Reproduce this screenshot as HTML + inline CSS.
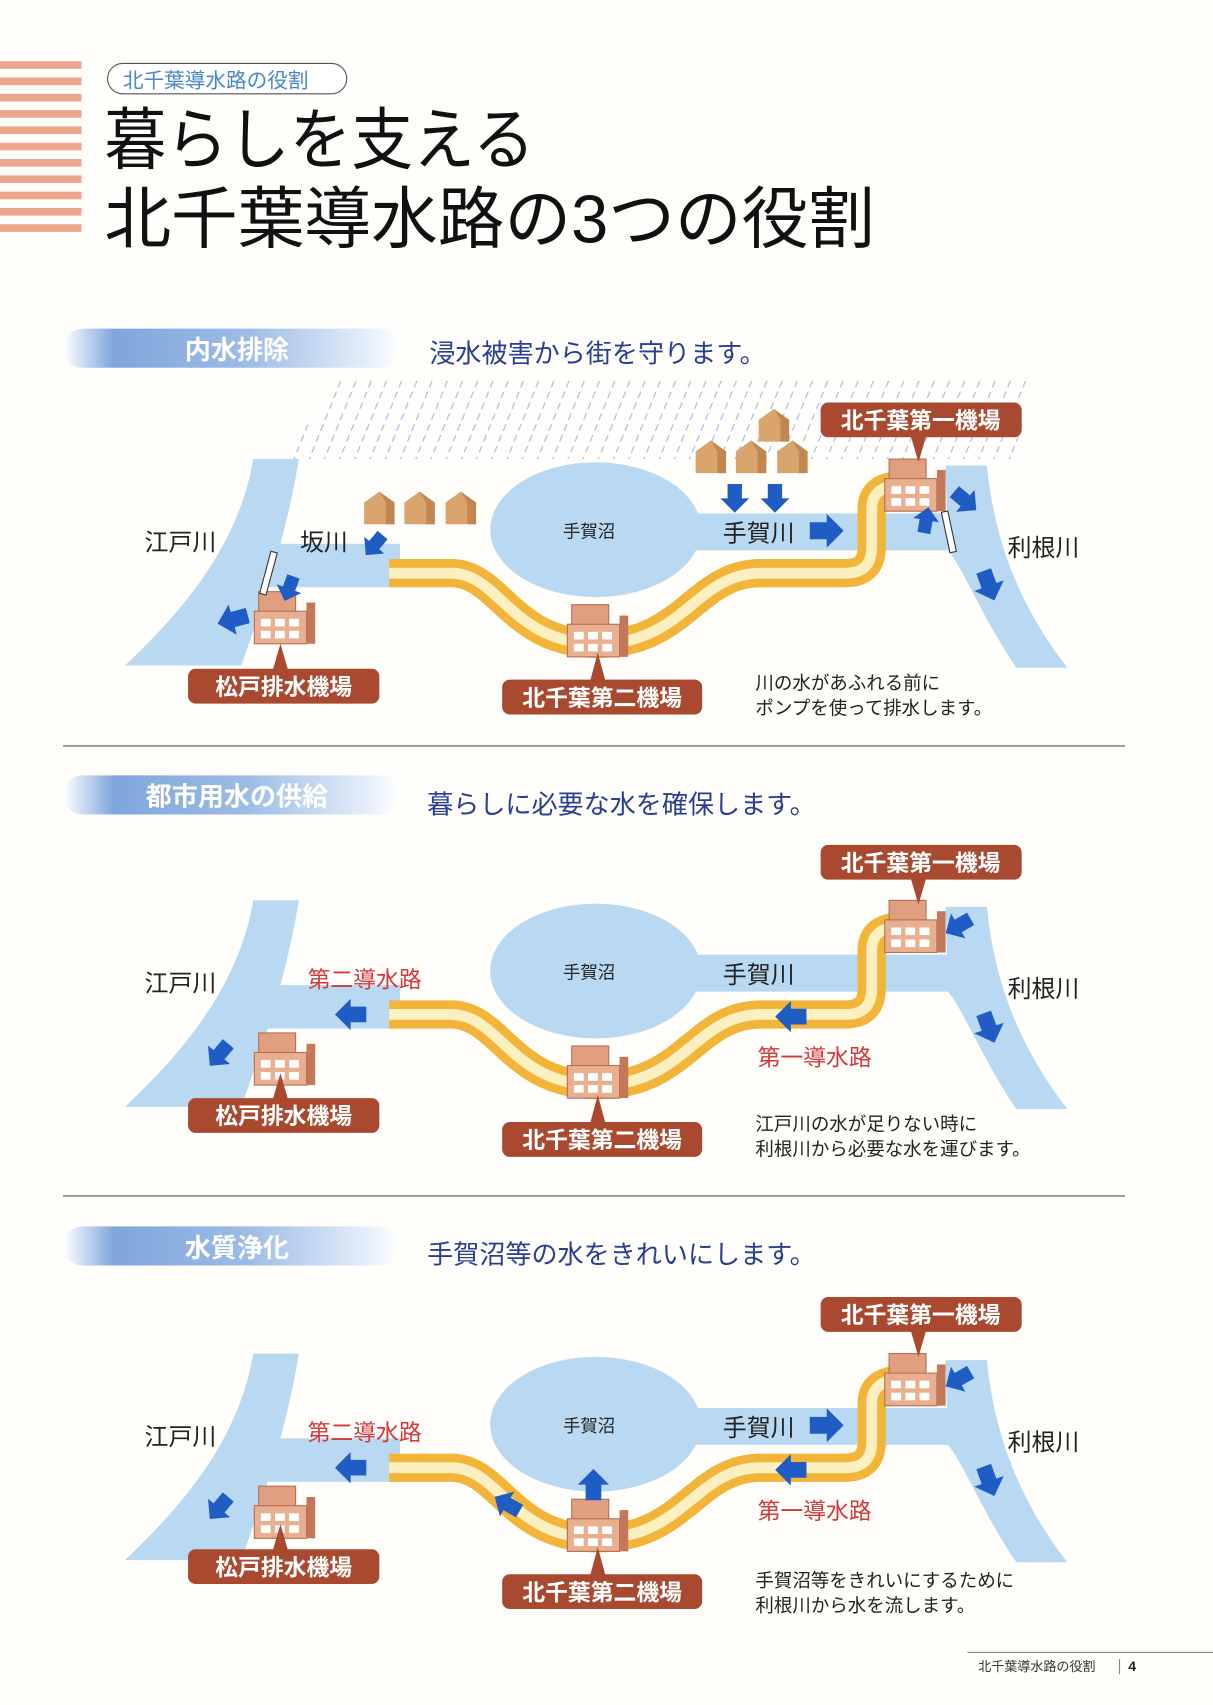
<!DOCTYPE html>
<html><head><meta charset="utf-8">
<style>
html,body{margin:0;padding:0;background:#fffefb;}
svg{display:block;}
text{font-family:"Liberation Sans","Noto Sans CJK JP",sans-serif;}
</style></head><body>
<svg width="1213" height="1705" viewBox="0 0 1116 1568" xmlns="http://www.w3.org/2000/svg">
<defs>
  <pattern id="rain" width="14" height="70" patternUnits="userSpaceOnUse" patternTransform="skewX(-22)">
    <line x1="7" y1="0" x2="7" y2="70" stroke="#8fb6e0" stroke-width="1" stroke-dasharray="6,4"/>
  </pattern>
  <linearGradient id="hdr" x1="0" x2="1">
    <stop offset="0" stop-color="#ffffff"/><stop offset="0.15" stop-color="#7fa6dc"/>
    <stop offset="0.55" stop-color="#9dbce6"/><stop offset="0.9" stop-color="#e4eefa"/><stop offset="1" stop-color="#ffffff"/>
  </linearGradient>
  <g id="arrowR"><polygon points="0,-6 12,-6 12,-12 24,0 12,12 12,6 0,6" fill="#1f5cc4"/></g>
  <g id="house"><polygon points="0,10 14,0 28,10 28,30 0,30" fill="#d9a46e"/><polygon points="14,0 28,10 28,30 20,30 20,10" fill="#c08850"/></g>
  <g id="station">
    <rect x="-24" y="-26" width="34" height="22" fill="#e0a080" stroke="#b86c50"/>
    <rect x="-28" y="-8" width="48" height="30" fill="#e8b090" stroke="#b86c50"/>
    <rect x="20" y="-16" width="8" height="38" fill="#c47858"/>
    <rect x="-22" y="-1" width="9" height="7" fill="#fff"/><rect x="-9" y="-1" width="9" height="7" fill="#fff"/><rect x="4" y="-1" width="9" height="7" fill="#fff"/>
    <rect x="-22" y="10" width="9" height="7" fill="#fff"/><rect x="-9" y="10" width="9" height="7" fill="#fff"/><rect x="4" y="10" width="9" height="7" fill="#fff"/>
  </g>
  <g id="base">
    <path d="M233,422 L275,422 C262,500 240,560 222,612 L115,612 C170,560 220,500 233,422 Z" fill="#b9d8f2"/>
    <rect x="238" y="500" width="130" height="40" fill="#b9d8f2"/>
    <ellipse cx="548" cy="487" rx="97" ry="62" fill="#b9d8f2"/>
    <rect x="630" y="472" width="260" height="34" fill="#b9d8f2"/>
    <path d="M870,428 L908,428 C915,500 940,560 982,614 L935,614 C905,570 885,520 872,506 Z" fill="#b9d8f2"/>
    <path d="M358,527 L415,527 C460,527 470,592 550,592 C630,592 640,527 700,527 L778,527 Q802,527 802,503 L802,468 Q802,446 830,446" fill="none" stroke="#f2b53a" stroke-width="26" stroke-linejoin="round"/>
    <path d="M358,527 L415,527 C460,527 470,592 550,592 C630,592 640,527 700,527 L778,527 Q802,527 802,503 L802,468 Q802,446 830,446" fill="none" stroke="#fdf0c0" stroke-width="10" stroke-linejoin="round"/>
    <use href="#station" x="262" y="570"/>
    <use href="#station" x="550" y="582"/>
    <use href="#station" x="842" y="448"/>
    <text x="133" y="506" font-size="22" fill="#222">江戸川</text>
    <text x="518" y="494" font-size="16" fill="#222">手賀沼</text>
    <text x="927" y="511" font-size="22" fill="#222">利根川</text>
  </g>
</defs>

<g fill="#eaa78e">
  <rect x="0" y="56" width="75" height="7"/><rect x="0" y="71" width="75" height="7"/><rect x="0" y="86" width="75" height="7"/>
  <rect x="0" y="101" width="75" height="7"/><rect x="0" y="116" width="75" height="7"/><rect x="0" y="131" width="75" height="7"/>
  <rect x="0" y="146" width="75" height="7"/><rect x="0" y="161" width="75" height="7"/><rect x="0" y="176" width="75" height="7"/>
  <rect x="0" y="191" width="75" height="7"/><rect x="0" y="206" width="75" height="7"/>
</g>
<rect x="99" y="58" width="220" height="28" rx="14" fill="#fff" stroke="#555" stroke-width="1"/>
<text x="113" y="80" font-size="19" fill="#4a86c8">北千葉導水路の役割</text>
<text x="96" y="150" font-size="62" fill="#111" textLength="396" lengthAdjust="spacingAndGlyphs">暮らしを支える</text>
<text x="96" y="223" font-size="62" fill="#111" textLength="709" lengthAdjust="spacingAndGlyphs">北千葉導水路の3つの役割</text>

<!-- Section 1 -->
<rect x="58" y="302" width="310" height="36" rx="18" fill="url(#hdr)"/>
<text x="218" y="330" font-size="24" fill="#fff" text-anchor="middle" font-weight="bold">内水排除</text>
<text x="395" y="333" font-size="24" fill="#2a3f92">浸水被害から街を守ります。</text>
<polygon points="310,350 955,350 930,422 262,422" fill="url(#rain)"/>
<use href="#base"/>
<text x="276" y="506" font-size="22" fill="#222">坂川</text>
<text x="665" y="498" font-size="22" fill="#222">手賀川</text>
<use href="#house" x="335" y="452"/><use href="#house" x="372" y="452"/><use href="#house" x="410" y="452"/>
<use href="#house" x="640" y="405"/><use href="#house" x="677" y="405"/><use href="#house" x="715" y="405"/><use href="#house" x="698" y="376"/>
<use href="#arrowR" transform="translate(676,445) rotate(90) scale(1.1)"/>
<use href="#arrowR" transform="translate(713,445) rotate(90) scale(1.1)"/>
<use href="#arrowR" transform="translate(745,488) scale(1.3)"/>
<use href="#arrowR" transform="translate(352,492) rotate(130) scale(1)"/>
<use href="#arrowR" transform="translate(270,530) rotate(110) scale(1)"/>
<use href="#arrowR" transform="translate(228,566) rotate(165) scale(1.2)"/>
<use href="#arrowR" transform="translate(850,490) rotate(-80) scale(1)"/>
<use href="#arrowR" transform="translate(878,452) rotate(40) scale(1.1)"/>
<use href="#arrowR" transform="translate(905,525) rotate(70) scale(1.2)"/>
<rect x="244" y="507" width="6" height="40" fill="#fff" stroke="#333" transform="rotate(15 247 527)"/>
<rect x="870" y="470" width="6" height="38" fill="#fff" stroke="#333" transform="rotate(-12 873 489)"/>
<text x="695" y="634" font-size="17" fill="#222">川の水があふれる前に</text>
<text x="695" y="657" font-size="17" fill="#222">ポンプを使って排水します。</text>
<line x1="58" y1="686" x2="1035" y2="686" stroke="#888" stroke-width="1.5"/>

<!-- Section 2 -->
<rect x="58" y="713" width="310" height="36" rx="18" fill="url(#hdr)"/>
<text x="218" y="741" font-size="24" fill="#fff" text-anchor="middle" font-weight="bold">都市用水の供給</text>
<text x="393" y="748" font-size="24" fill="#2a3f92">暮らしに必要な水を確保します。</text>
<use href="#base" y="406"/>
<text x="665" y="904" font-size="22" fill="#222">手賀川</text>
<text x="283" y="908" font-size="21" fill="#d03a3a">第二導水路</text>
<text x="697" y="980" font-size="21" fill="#d03a3a">第一導水路</text>
<use href="#arrowR" transform="translate(337,933) rotate(180) scale(1.2)"/>
<use href="#arrowR" transform="translate(742,935) rotate(180) scale(1.2)"/>
<use href="#arrowR" transform="translate(210,960) rotate(130) scale(1.1)"/>
<use href="#arrowR" transform="translate(893,845) rotate(150) scale(1.1)"/>
<use href="#arrowR" transform="translate(905,932) rotate(70) scale(1.2)"/>
<text x="695" y="1040" font-size="17" fill="#222">江戸川の水が足りない時に</text>
<text x="695" y="1063" font-size="17" fill="#222">利根川から必要な水を運びます。</text>
<line x1="58" y1="1100" x2="1035" y2="1100" stroke="#888" stroke-width="1.5"/>

<!-- Section 3 -->
<rect x="58" y="1128" width="310" height="36" rx="18" fill="url(#hdr)"/>
<text x="218" y="1156" font-size="24" fill="#fff" text-anchor="middle" font-weight="bold">水質浄化</text>
<text x="393" y="1162" font-size="24" fill="#2a3f92">手賀沼等の水をきれいにします。</text>
<use href="#base" y="823"/>
<text x="665" y="1321" font-size="22" fill="#222">手賀川</text>
<text x="283" y="1325" font-size="21" fill="#d03a3a">第二導水路</text>
<text x="697" y="1397" font-size="21" fill="#d03a3a">第一導水路</text>
<use href="#arrowR" transform="translate(745,1311) scale(1.3)"/>
<use href="#arrowR" transform="translate(337,1350) rotate(180) scale(1.2)"/>
<use href="#arrowR" transform="translate(742,1352) rotate(180) scale(1.2)"/>
<use href="#arrowR" transform="translate(478,1390) rotate(210) scale(1.1)"/>
<use href="#arrowR" transform="translate(546,1380) rotate(-90) scale(1.2)"/>
<use href="#arrowR" transform="translate(210,1377) rotate(130) scale(1.1)"/>
<use href="#arrowR" transform="translate(893,1262) rotate(150) scale(1.1)"/>
<use href="#arrowR" transform="translate(905,1349) rotate(70) scale(1.2)"/>
<text x="695" y="1460" font-size="17" fill="#222">手賀沼等をきれいにするために</text>
<text x="695" y="1483" font-size="17" fill="#222">利根川から水を流します。</text>

<g fill="#a94a30">
  <rect x="755" y="370" width="185" height="32" rx="7"/><polygon points="838,401 852,401 845,425"/>
  <rect x="173" y="615" width="176" height="32" rx="7"/><polygon points="251,616 265,616 258,592"/>
  <rect x="462" y="625" width="184" height="32" rx="7"/><polygon points="543,626 557,626 550,600"/>
  <rect x="755" y="777" width="185" height="32" rx="7"/><polygon points="838,808 852,808 845,832"/>
  <rect x="173" y="1010" width="176" height="32" rx="7"/><polygon points="251,1011 265,1011 258,987"/>
  <rect x="462" y="1032" width="184" height="32" rx="7"/><polygon points="543,1033 557,1033 550,1007"/>
  <rect x="755" y="1193" width="185" height="32" rx="7"/><polygon points="838,1224 852,1224 845,1248"/>
  <rect x="173" y="1425" width="176" height="32" rx="7"/><polygon points="251,1426 265,1426 258,1402"/>
  <rect x="462" y="1448" width="184" height="32" rx="7"/><polygon points="543,1449 557,1449 550,1423"/>
</g>
<g fill="#fff" font-size="21" font-weight="bold" text-anchor="middle">
  <text x="847" y="394">北千葉第一機場</text>
  <text x="261" y="639">松戸排水機場</text>
  <text x="554" y="649">北千葉第二機場</text>
  <text x="847" y="801">北千葉第一機場</text>
  <text x="261" y="1034">松戸排水機場</text>
  <text x="554" y="1056">北千葉第二機場</text>
  <text x="847" y="1217">北千葉第一機場</text>
  <text x="261" y="1449">松戸排水機場</text>
  <text x="554" y="1472">北千葉第二機場</text>
</g>

<line x1="890" y1="1520" x2="1116" y2="1520" stroke="#888"/>
<text x="900" y="1537" font-size="12" fill="#333">北千葉導水路の役割</text>
<line x1="1030" y1="1526" x2="1030" y2="1540" stroke="#888"/>
<text x="1038" y="1537" font-size="13" font-weight="bold" fill="#222">4</text>
</svg>
</body></html>
